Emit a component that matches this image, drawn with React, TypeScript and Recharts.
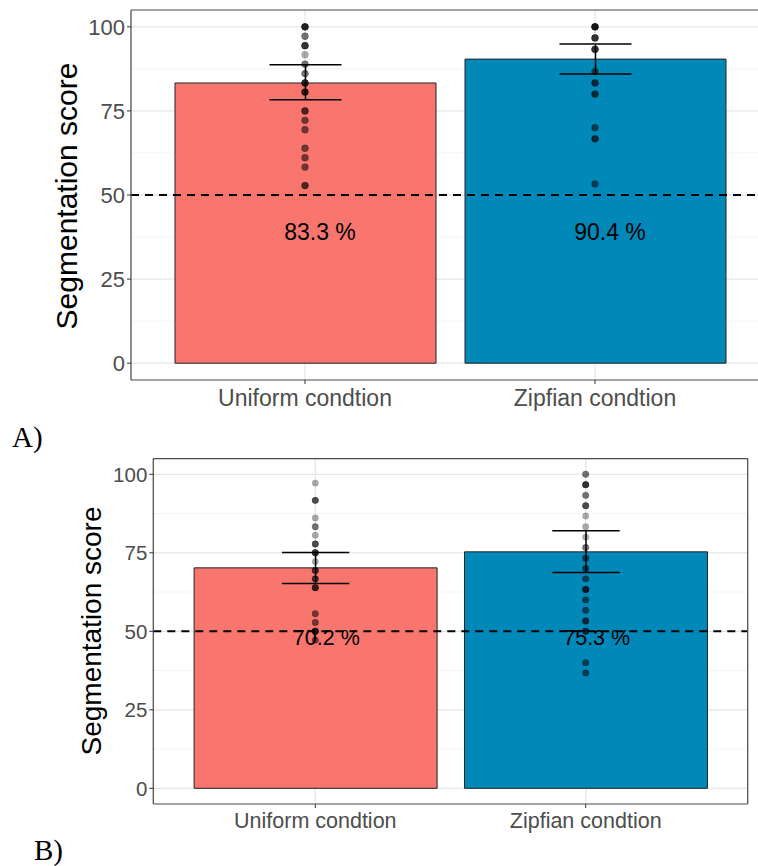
import React from 'react';
import {
  ComposedChart,
  Bar,
  Cell,
  Scatter,
  XAxis,
  YAxis,
  CartesianGrid,
  ReferenceLine,
  ErrorBar,
} from 'recharts';

const conditions = ['Uniform condtion', 'Zipfian condtion'];
const barColors = ['#F8766D', '#0088B9'];
const yTicks = [0, 25, 50, 75, 100];
const yMinor = [12.5, 37.5, 62.5, 87.5];

// Panel A
const meansA = [83.3, 90.4];
const lowerA = [78.3, 86.0];
const upperA = [88.7, 94.9];
const labelsA = ['83.3 %', '90.4 %'];
const labelYA = [39, 39];
const uniformScoresA = [100, 97.2, 94.4, 91.7, 88.9, 86.1, 83.3, 80.6, 75, 72.2, 69.4, 63.9, 61.1, 58.3, 52.8];
const uniformCountsA = [5, 2, 4, 1, 2, 2, 4, 4, 3, 2, 2, 2, 2, 2, 3];
const zipfScoresA = [100, 96.7, 93.3, 86.7, 83.3, 80, 70, 66.7, 53.3];
const zipfCountsA = [6, 4, 4, 2, 3, 3, 2, 3, 2];

// Panel B
const meansB = [70.2, 75.3];
const lowerB = [65.2, 68.7];
const upperB = [75.1, 82.0];
const labelsB = ['70.2 %', '75.3 %'];
const labelYB = [48, 48];
const uniformScoresB = [97.2, 91.7, 86.1, 83.3, 80.6, 77.8, 75, 72.2, 69.4, 66.7, 63.9, 55.6, 52.8, 50, 47.2];
const uniformCountsB = [1, 3, 1, 2, 1, 3, 4, 1, 3, 3, 4, 2, 2, 5, 2];
const zipfScoresB = [100, 96.7, 93.3, 90, 86.7, 83.3, 80, 76.7, 73.3, 70, 66.7, 63.3, 60, 56.7, 53.3, 50, 40, 36.7];
const zipfCountsB = [2, 4, 2, 3, 1, 1, 1, 2, 2, 2, 2, 4, 2, 2, 3, 3, 2, 2];

const FONT = '"Liberation Sans", Arial, sans-serif';
const SERIF = '"Liberation Serif", "Times New Roman", serif';
const BORDER = { stroke: '#4a4a4a', strokeWidth: 1.2 };

function barRows(means: number[], lower: number[], upper: number[]) {
  return conditions.map((cond, i) => ({
    cond,
    mean: means[i],
    err: [means[i] - lower[i], upper[i] - means[i]],
  }));
}

function dotRows(cond: string, scores: number[], counts: number[]) {
  const rows: { cond: string; score: number }[] = [];
  scores.forEach((s, i) => {
    for (let k = 0; k < counts[i]; k++) rows.push({ cond, score: s });
  });
  return rows;
}

function labelRows(labels: string[], ys: number[]) {
  return conditions.map((cond, i) => ({ cond, ly: ys[i], text: labels[i] }));
}

interface PanelProps {
  bars: any[];
  dots: any[];
  labels: any[];
  width: number;
  height: number;
  margin: { top: number; right: number; bottom: number; left: number };
  yWidth: number;
  pad: number;
  barSize: number;
  whisker: number;
  tickFont: number;
  xFont: number;
  labelFont: number;
  labelDx: number;
  dotR: number;
  xTickMargin: number;
}

function Panel(p: PanelProps) {
  return (
    <ComposedChart width={p.width} height={p.height} data={p.bars} margin={p.margin}>
      <CartesianGrid horizontalValues={yMinor} vertical={false} stroke="#f4f4f4" strokeWidth={1} />
      <CartesianGrid horizontalValues={yTicks} stroke="#e6e6e6" strokeWidth={1.3} />
      <XAxis
        dataKey="cond"
        type="category"
        allowDuplicatedCategory={false}
        padding={{ left: p.pad, right: p.pad }}
        axisLine={BORDER}
        tickSize={4}
        tickMargin={p.xTickMargin}
        tickLine={{ stroke: '#333' }}
        tick={{ fontSize: p.xFont, fill: '#4d4d4d' }}
        height={40}
      />
      <YAxis
        type="number"
        domain={[-5, 105]}
        ticks={yTicks}
        interval={0}
        width={p.yWidth}
        axisLine={BORDER}
        tickSize={4}
        tickMargin={2}
        tickLine={{ stroke: '#333' }}
        tick={{ fontSize: p.tickFont, fill: '#4d4d4d' }}
      />
      <YAxis
        yAxisId="right"
        orientation="right"
        type="number"
        domain={[-5, 105]}
        width={1}
        tick={false}
        tickLine={false}
        axisLine={BORDER}
      />
      <Bar dataKey="mean" barSize={p.barSize} stroke="#222" strokeWidth={1} isAnimationActive={false}>
        {p.bars.map((_, i) => (
          <Cell key={i} fill={barColors[i]} />
        ))}
        <ErrorBar dataKey="err" width={p.whisker} stroke="#000" strokeWidth={1.5} direction="y" />
      </Bar>
      <ReferenceLine y={50} stroke="#000" strokeWidth={2} strokeDasharray="8 6" />
      <ReferenceLine y={105} stroke={BORDER.stroke} strokeWidth={BORDER.strokeWidth} />
      <Scatter
        data={p.dots}
        dataKey="score"
        isAnimationActive={false}
        shape={(s: any) => (
          <circle cx={s.cx} cy={s.cy} r={p.dotR} fill="#000" fillOpacity={0.32} stroke="#000" strokeOpacity={0.2} strokeWidth={0.6} />
        )}
      />
      <Scatter
        data={p.labels}
        dataKey="ly"
        isAnimationActive={false}
        shape={(s: any) => (
          <text x={s.cx + p.labelDx} y={s.cy} textAnchor="middle" dominantBaseline="central" fontSize={p.labelFont} fill="#000">
            {s.payload.text}
          </text>
        )}
      />
    </ComposedChart>
  );
}

export default function App() {
  const barsA = barRows(meansA, lowerA, upperA);
  const dotsA = [
    ...dotRows(conditions[0], uniformScoresA, uniformCountsA),
    ...dotRows(conditions[1], zipfScoresA, zipfCountsA),
  ];
  const barsB = barRows(meansB, lowerB, upperB);
  const dotsB = [
    ...dotRows(conditions[0], uniformScoresB, uniformCountsB),
    ...dotRows(conditions[1], zipfScoresB, zipfCountsB),
  ];

  return (
    <div
      style={{
        position: 'absolute',
        left: 0,
        top: 0,
        width: 758,
        height: 866,
        overflow: 'hidden',
        background: '#fff',
        fontFamily: FONT,
      }}
    >
      <div style={{ position: 'absolute', left: 0, top: 0 }}>
        <Panel
          bars={barsA}
          dots={dotsA}
          labels={labelRows(labelsA, labelYA)}
          width={780}
          height={420}
          margin={{ top: 10, right: 10, bottom: 0, left: 0 }}
          yWidth={131}
          pad={29}
          barSize={261}
          whisker={36}
          tickFont={22}
          xFont={23}
          labelFont={23}
          labelDx={15}
          dotR={3.4}
          xTickMargin={6}
        />
      </div>
      <div style={{ position: 'absolute', left: 0, top: 440 }}>
        <Panel
          bars={barsB}
          dots={dotsB}
          labels={labelRows(labelsB, labelYB)}
          width={758}
          height={404}
          margin={{ top: 18.6, right: 9.3, bottom: 0, left: 0 }}
          yWidth={153.3}
          pad={26.8}
          barSize={243}
          whisker={33.7}
          tickFont={20.5}
          xFont={21.5}
          labelFont={21.5}
          labelDx={11}
          dotR={3.2}
          xTickMargin={5}
        />
      </div>
      <svg
        width={758}
        height={866}
        style={{ position: 'absolute', left: 0, top: 0, pointerEvents: 'none' }}
      >
        <text
          transform="rotate(-90 66 196)"
          x={66}
          y={196}
          textAnchor="middle"
          dominantBaseline="central"
          fontSize={30}
          fill="#000"
          fontFamily={FONT}
        >
          Segmentation score
        </text>
        <text
          transform="rotate(-90 91 631)"
          x={91}
          y={631}
          textAnchor="middle"
          dominantBaseline="central"
          fontSize={28}
          fill="#000"
          fontFamily={FONT}
        >
          Segmentation score
        </text>
        <text x={12} y={447} fontSize={29} fill="#000" fontFamily={SERIF}>
          A)
        </text>
        <text x={34} y={860} fontSize={29} fill="#000" fontFamily={SERIF}>
          B)
        </text>
      </svg>
    </div>
  );
}
